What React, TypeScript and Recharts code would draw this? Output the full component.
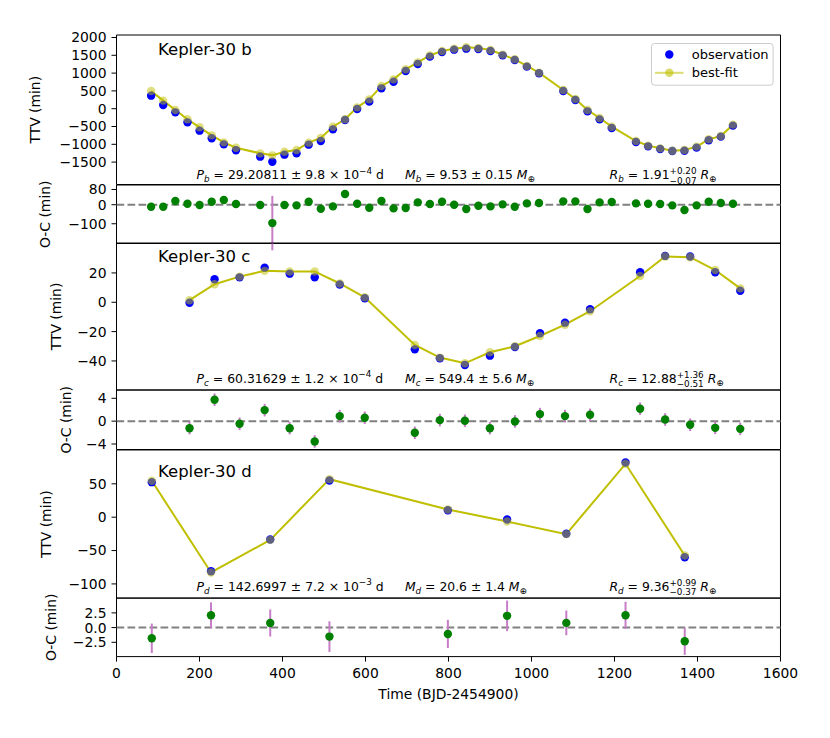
import React from "react";
import {
  ComposedChart,
  Scatter,
  Line,
  XAxis,
  YAxis,
  ReferenceLine,
  ReferenceArea,
  ReferenceDot,
  ErrorBar,
} from "recharts";

const FONT = "'DejaVu Sans', sans-serif";
const BLUE = "#0000ff";
const YEL = "#bfbf00";
const GREEN = "#008000";
const PURPLE = "#c77dc7";
const W = 830;
const RIGHT = 49.5;
const YW = 116.5;
const PAD = 22;

const xTicks = [0, 200, 400, 600, 800, 1000, 1200, 1400, 1600];

// ---------- Kepler-30 b ----------
const bTimes = [83.4, 112.6, 141.8, 171.0, 200.2, 229.4, 258.6, 287.9, 346.3, 375.5, 404.7, 433.9, 463.1, 492.3, 521.5, 550.7, 579.9, 609.1, 638.4, 667.6, 696.8, 726.0, 755.2, 784.4, 813.6, 842.8, 872.0, 901.2, 930.4, 959.6, 988.8, 1018.1, 1076.5, 1105.7, 1134.9, 1164.1, 1193.3, 1251.7, 1280.9, 1310.1, 1339.3, 1368.6, 1397.8, 1427.0, 1456.2, 1485.4];
const bObs = [366, 104, -102, -383, -617, -832, -1001, -1169, -1347, -1488, -1291, -1254, -1010, -907, -580, -317, -8, 198, 572, 759, 1059, 1256, 1462, 1593, 1658, 1686, 1677, 1621, 1499, 1368, 1181, 994, 497, 245, -74, -299, -542, -935, -1057, -1132, -1188, -1179, -1094, -888, -785, -476];
const bFit = [497, 226, -36, -298, -523, -748, -945, -1095, -1254, -1310, -1207, -1160, -954, -823, -505, -298, 38, 263, 638, 825, 1106, 1302, 1499, 1621, 1686, 1724, 1705, 1649, 1518, 1387, 1200, 1012, 525, 272, -36, -261, -505, -907, -1038, -1113, -1179, -1160, -1066, -860, -767, -448];
const bOC = [-10.5, -10.5, 19.3, 5.3, -1.8, 15.8, 24.6, 3.5, -1.8, -96.5, -1.8, -3.5, 15.8, -21, -8.8, 56, 5.3, -15.8, 19.3, -19.3, -17.5, 12.3, 3.5, 15.8, 0, -22.8, -5.3, -8.8, 1.8, -10.5, 7, 8.8, 17.5, 17.5, -22.8, 12.3, 14, 7, 5.3, 3.5, -3.5, -28, -3.5, 15.8, 8.8, 5.3];
const bErr = [8, 8, 8, 8, 8, 8, 8, 8, 8, 143, 8, 8, 8, 8, 8, 8, 8, 8, 8, 8, 8, 8, 8, 8, 8, 8, 8, 8, 8, 8, 8, 8, 8, 8, 8, 8, 8, 8, 8, 8, 8, 8, 8, 8, 8, 8];

// ---------- Kepler-30 c ----------
const cTimes = [176.0, 236.3, 296.6, 357.0, 417.3, 477.6, 537.9, 598.2, 718.8, 779.2, 839.5, 899.8, 960.1, 1020.4, 1080.7, 1141.1, 1261.7, 1322.0, 1382.3, 1442.6, 1503.0];
const cObs = [-0.3, 15.7, 17.0, 23.6, 19.5, 17.0, 12.1, 2.7, -32.1, -38.2, -42.8, -36.4, -30.5, -21.1, -13.9, -4.8, 20.5, 31.6, 31.2, 20.5, 7.9];
const cFit = [1.4, 12.3, 17.5, 21.4, 21.0, 21.0, 12.8, 3.4, -29.1, -37.7, -41.6, -34.1, -30.0, -23.0, -15.3, -6.1, 17.9, 31.2, 30.7, 22.0, 9.5];
const cOC = [-1.23, 3.75, -0.46, 1.93, -1.23, -3.56, 0.88, 0.6, -2.04, 0.18, 0.06, -1.23, -0.05, 1.23, 0.88, 1.11, 2.17, 0.29, -0.64, -1.17, -1.35];
const cErr = [1.1, 1.1, 1.1, 1.1, 1.1, 1.1, 1.1, 1.1, 1.1, 1.1, 1.1, 1.1, 1.1, 1.1, 1.1, 1.1, 1.1, 1.1, 1.1, 1.1, 1.1];

// ---------- Kepler-30 d ----------
const dTimes = [85.0, 227.7, 370.4, 513.1, 798.5, 941.2, 1083.9, 1226.6, 1369.3];
const dObs = [52.5, -81, -33.4, 55, 10.5, -3.4, -24.9, 82, -60];
const dFit = [54.5, -82.9, -34, 57, 11.5, -6.4, -25.4, 80, -57.4];
const dOC = [-1.82, 2.09, 0.78, -1.53, -1.08, 2.0, 0.8, 2.09, -2.33];
const dErr = [2.5, 2.2, 2.3, 2.6, 2.4, 2.6, 2.1, 2.3, 2.3];

// ---------- tick labels / text ----------
const ticksB = [-1500, -1000, -500, 0, 500, 1000, 1500, 2000];
const ticksBoc = [-100, 0, 80];
const ticksC = [-40, -20, 0, 20];
const ticksCoc = [-4, 0, 4];
const ticksD = [-100, -50, 0, 50];
const ticksDoc = [-2.5, 0, 2.5];

const periods = ["29.20811", "60.31629", "142.6997"];
const periodErr = ["9.8", "1.2", "7.2"];
const periodExp = ["\u22124", "\u22124", "\u22123"];
const masses = ["9.53", "549.4", "20.6"];
const massErr = ["0.15", "5.6", "1.4"];
const radii = ["1.91", "12.88", "9.36"];
const radUp = ["+0.20", "+1.36", "+0.99"];
const radLo = ["\u22120.07", "\u22120.51", "\u22120.37"];
const subs = ["b", "c", "d"];
const names = ["Kepler-30 b", "Kepler-30 c", "Kepler-30 d"];

const mk = (ts: number[], vs: number[], es?: number[]) =>
  ts.map((t, i) => (es ? { t, v: vs[i], e: es[i] } : { t, v: vs[i] }));

const minus = (s: string) => s.replace("-", "\u2212");

const S = 12.4;
const s = 8.8;

function blueDot(p: any) {
  if (p.cx == null || p.cy == null) return <g />;
  return <circle cx={p.cx} cy={p.cy} r={4.2} fill={BLUE} />;
}
function greenDot(p: any) {
  if (p.cx == null || p.cy == null) return <g />;
  return <circle cx={p.cx} cy={p.cy} r={4.2} fill={GREEN} />;
}

function titleAt(x: number, y: number, i: number) {
  return (
    <ReferenceDot
      x={x}
      y={y}
      r={0}
      fill="none"
      stroke="none"
      ifOverflow="visible"
      label={(p: any) => (
        <text x={p.viewBox.x} y={p.viewBox.y} fontFamily={FONT} fontSize={16.5} fill="#000">
          {names[i]}
        </text>
      )}
    />
  );
}

function periodAt(x: number, y: number, i: number) {
  return (
    <ReferenceDot
      x={x}
      y={y}
      r={0}
      fill="none"
      stroke="none"
      ifOverflow="visible"
      label={(p: any) => (
        <text x={p.viewBox.x} y={p.viewBox.y} fontFamily={FONT} fontSize={S} fill="#000">
          <tspan fontStyle="italic">P</tspan>
          <tspan fontStyle="italic" fontSize={s} dy={3}>{subs[i]}</tspan>
          <tspan dy={-3}>{` = ${periods[i]} \u00b1 ${periodErr[i]} \u00d7 10`}</tspan>
          <tspan fontSize={s} dy={-5.5}>{periodExp[i]}</tspan>
          <tspan dy={5.5}>{" d"}</tspan>
        </text>
      )}
    />
  );
}

function massAt(x: number, y: number, i: number) {
  return (
    <ReferenceDot
      x={x}
      y={y}
      r={0}
      fill="none"
      stroke="none"
      ifOverflow="visible"
      label={(p: any) => (
        <text x={p.viewBox.x} y={p.viewBox.y} fontFamily={FONT} fontSize={S} fill="#000">
          <tspan fontStyle="italic">M</tspan>
          <tspan fontStyle="italic" fontSize={s} dy={3}>{subs[i]}</tspan>
          <tspan dy={-3}>{` = ${masses[i]} \u00b1 ${massErr[i]} `}</tspan>
          <tspan fontStyle="italic">M</tspan>
          <tspan fontSize={s} dy={3}>{"\u2295"}</tspan>
        </text>
      )}
    />
  );
}

function radiusAt(x: number, y: number, i: number) {
  const supW = 3.064 * s;
  return (
    <ReferenceDot
      x={x}
      y={y}
      r={0}
      fill="none"
      stroke="none"
      ifOverflow="visible"
      label={(p: any) => (
        <text x={p.viewBox.x} y={p.viewBox.y} fontFamily={FONT} fontSize={S} fill="#000">
          <tspan fontStyle="italic">R</tspan>
          <tspan fontStyle="italic" fontSize={s} dy={3}>{subs[i]}</tspan>
          <tspan dy={-3}>{` = ${radii[i]}`}</tspan>
          <tspan fontSize={s} dy={-5}>{radUp[i]}</tspan>
          <tspan fontSize={s} dx={-supW} dy={9.5}>{radLo[i]}</tspan>
          <tspan dy={-4.5}>{" "}</tspan>
          <tspan fontStyle="italic">R</tspan>
          <tspan fontSize={s} dy={3}>{"\u2295"}</tspan>
        </text>
      )}
    />
  );
}

type PanelProps = {
  top: number;
  height: number;
  domain: [number, number];
  ticks: number[];
  fmt?: (v: number) => string;
  yLabel: string;
  yLabelX: number;
  bottom?: boolean;
  children: React.ReactNode;
};

function Panel({ top, height, domain, ticks, fmt, yLabel, yLabelX, bottom, children }: PanelProps) {
  const xh = bottom ? 70 : 0;
  const bpad = bottom ? 0 : PAD;
  const f = fmt ?? ((v: number) => minus(String(v)));
  const h = height + xh + PAD + bpad;
  return (
    <div style={{ position: "absolute", left: 0, top: top - PAD, width: W, height: h }}>
      <ComposedChart width={W} height={h} margin={{ top: PAD, right: RIGHT, bottom: bpad, left: 0 }}>
        <XAxis
          type="number"
          dataKey="t"
          domain={[0, 1600]}
          ticks={xTicks}
          interval={0}
          allowDataOverflow
          hide={!bottom}
          height={xh}
          axisLine={false}
          tickLine={{ stroke: "#000", strokeWidth: 1 }}
          tickSize={5}
          tickMargin={6.5}
          tick={{ fill: "#000", fontSize: 13.9, fontFamily: FONT }}
          label={
            bottom
              ? (p: any) => (
                  <text
                    x={p.viewBox.x + p.viewBox.width / 2}
                    y={p.viewBox.y + 42.7}
                    textAnchor="middle"
                    fontFamily={FONT}
                    fontSize={13.9}
                    fill="#000"
                  >
                    Time (BJD-2454900)
                  </text>
                )
              : undefined
          }
        />
        <YAxis
          type="number"
          dataKey="v"
          domain={domain}
          ticks={ticks}
          interval={0}
          allowDataOverflow
          width={YW}
          axisLine={false}
          tickLine={{ stroke: "#000", strokeWidth: 1 }}
          tickSize={5}
          tickMargin={5}
          tickFormatter={f}
          tick={{ fill: "#000", fontSize: 13.9, fontFamily: FONT }}
          label={(p: any) => {
            const cy = p.viewBox.y + p.viewBox.height / 2;
            return (
              <text
                x={yLabelX}
                y={cy}
                textAnchor="middle"
                transform={`rotate(-90 ${yLabelX} ${cy})`}
                fontFamily={FONT}
                fontSize={13.9}
                fill="#000"
              >
                {yLabel}
              </text>
            );
          }}
        />
        <ReferenceArea
          x1={0}
          x2={1600}
          y1={domain[0]}
          y2={domain[1]}
          fill="none"
          fillOpacity={0}
          stroke="#000"
          strokeWidth={1}
          ifOverflow="visible"
        />
        {children}
      </ComposedChart>
    </div>
  );
}

function LegendBox() {
  return (
    <svg
      width={124}
      height={44}
      style={{ position: "absolute", left: 651, top: 42.5, overflow: "visible" }}
    >
      <rect x={0.5} y={0.5} width={121.6} height={41.7} rx={3} ry={3} fill="#ffffff" fillOpacity={0.8} stroke="#cccccc" strokeWidth={1} />
      <circle cx={18.3} cy={11.5} r={4.2} fill={BLUE} />
      <text x={40.7} y={11.5} dy="0.355em" fontFamily={FONT} fontSize={13} fill="#000">
        observation
      </text>
      <line x1={4} x2={32.5} y1={29.8} y2={29.8} stroke={YEL} strokeOpacity={0.55} strokeWidth={2} />
      <circle cx={18.3} cy={29.8} r={4.2} fill={YEL} fillOpacity={0.6} />
      <text x={40.7} y={29.8} dy="0.355em" fontFamily={FONT} fontSize={13} fill="#000">
        best-fit
      </text>
    </svg>
  );
}

export default function App() {
  const dotStyle = { r: 4.2, fill: YEL, fillOpacity: 0.5, stroke: "none", strokeWidth: 0 };
  const zero = (
    <ReferenceLine y={0} stroke="#808080" strokeWidth={2} strokeDasharray="7.7 3.3" />
  );
  return (
    <div
      style={{
        position: "absolute",
        left: 0,
        top: 0,
        width: W,
        height: 738,
        background: "#fff",
        fontFamily: FONT,
        overflow: "hidden",
      }}
    >
      {/* Kepler-30 b TTV */}
      <Panel top={35} height={149.5} domain={[-2129, 2070]} ticks={ticksB} yLabel="TTV (min)" yLabelX={40}>
        <Scatter data={mk(bTimes, bObs)} shape={blueDot} isAnimationActive={false} />
        <Line data={mk(bTimes, bFit)} dataKey="v" type="linear" stroke={YEL} strokeWidth={2} dot={dotStyle} activeDot={false} isAnimationActive={false} />
        {titleAt(100, 1500, 0)}
        {periodAt(193, -1980, 0)}
        {massAt(695, -1980, 0)}
        {radiusAt(1188, -1980, 0)}
      </Panel>
      {/* Kepler-30 b O-C */}
      <Panel top={184.5} height={58.5} domain={[-203.6, 103.4]} ticks={ticksBoc} yLabel="O-C (min)" yLabelX={50}>
        {zero}
        <Scatter data={mk(bTimes, bOC, bErr)} shape={greenDot} isAnimationActive={false}>
          <ErrorBar dataKey="e" direction="y" stroke={PURPLE} strokeWidth={2} width={0} isAnimationActive={false} />
        </Scatter>
      </Panel>
      {/* Kepler-30 c TTV */}
      <Panel top={243} height={147} domain={[-59.8, 40.4]} ticks={ticksC} yLabel="TTV (min)" yLabelX={61}>
        <Scatter data={mk(cTimes, cObs)} shape={blueDot} isAnimationActive={false} />
        <Line data={mk(cTimes, cFit)} dataKey="v" type="linear" stroke={YEL} strokeWidth={2} dot={dotStyle} activeDot={false} isAnimationActive={false} />
        {titleAt(100, 27.7, 1)}
        {periodAt(193, -54.8, 1)}
        {massAt(695, -54.8, 1)}
        {radiusAt(1188, -54.8, 1)}
      </Panel>
      {/* Kepler-30 c O-C */}
      <Panel top={390} height={59.5} domain={[-4.96, 5.45]} ticks={ticksCoc} yLabel="O-C (min)" yLabelX={71}>
        {zero}
        <Scatter data={mk(cTimes, cOC, cErr)} shape={greenDot} isAnimationActive={false}>
          <ErrorBar dataKey="e" direction="y" stroke={PURPLE} strokeWidth={2} width={0} isAnimationActive={false} />
        </Scatter>
      </Panel>
      {/* Kepler-30 d TTV */}
      <Panel top={449.5} height={148.2} domain={[-121.4, 100.7]} ticks={ticksD} yLabel="TTV (min)" yLabelX={51}>
        <Scatter data={mk(dTimes, dObs)} shape={blueDot} isAnimationActive={false} />
        <Line data={mk(dTimes, dFit)} dataKey="v" type="linear" stroke={YEL} strokeWidth={2} dot={dotStyle} activeDot={false} isAnimationActive={false} />
        {titleAt(100, 60, 2)}
        {periodAt(193, -110, 2)}
        {massAt(695, -110, 2)}
        {radiusAt(1188, -110, 2)}
      </Panel>
      {/* Kepler-30 d O-C */}
      <Panel
        top={597.7}
        height={58.6}
        domain={[-4.93, 5.03]}
        ticks={ticksDoc}
        fmt={(v: number) => minus(v.toFixed(1))}
        yLabel="O-C (min)"
        yLabelX={56}
        bottom
      >
        {zero}
        <Scatter data={mk(dTimes, dOC, dErr)} shape={greenDot} isAnimationActive={false}>
          <ErrorBar dataKey="e" direction="y" stroke={PURPLE} strokeWidth={2} width={0} isAnimationActive={false} />
        </Scatter>
      </Panel>
      <LegendBox />
    </div>
  );
}
